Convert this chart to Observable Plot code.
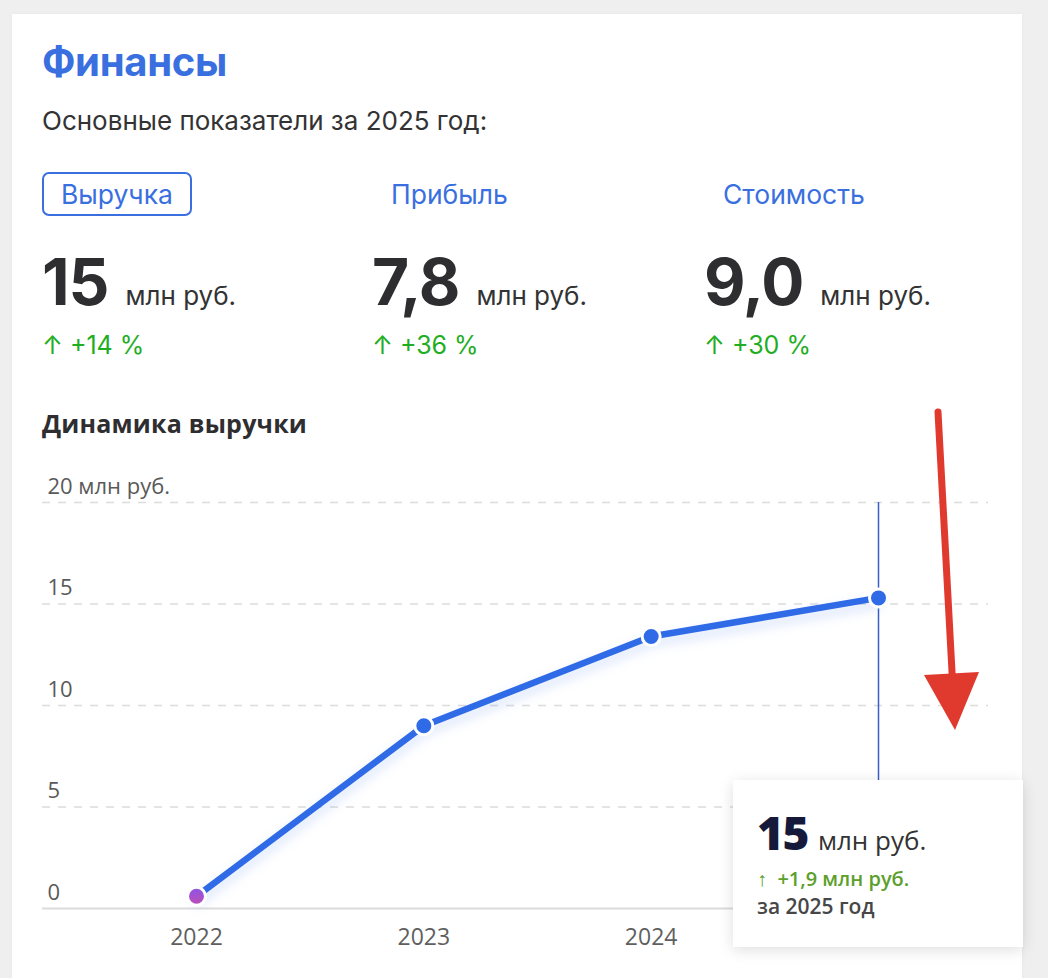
<!DOCTYPE html>
<html>
<head>
<meta charset="utf-8">
<script src="https://cdn.jsdelivr.net/npm/d3@7"></script>
<script src="https://cdn.jsdelivr.net/npm/@observablehq/plot@0.6"></script>
<style>
  html, body { margin: 0; padding: 0; }
  body { width: 1048px; height: 978px; background: #efeff0; position: relative; overflow: hidden; font-family: Inter, "Noto Sans", sans-serif; }
  #card { position: absolute; left: 12px; top: 14px; width: 1010px; height: 1000px; background: #fff; box-shadow: 0 0 4px rgba(0,0,0,0.04); }
  .abs { position: absolute; white-space: nowrap; line-height: 1; }
  #title { left: 42px; top: 42px; font-size: 40px; font-weight: 700; color: #3a6fe0; letter-spacing: -0.3px; }
  #subtitle { left: 42px; top: 108px; font-size: 26px; color: #333; }
  .tab { top: 172px; height: 40px; line-height: 40px; padding: 0 17px; font-size: 26.5px; color: #3a6fe0; border: 2px solid transparent; border-radius: 7px; }
  .tab.sel { border-color: #3a6fe0; }
  .big { top: 250px; font-size: 64px; font-weight: 700; color: #2e2e30; letter-spacing: -1px; }
  .unit { font-size: 26px; font-weight: 400; color: #333; letter-spacing: 0; margin-left: 17px; }
  .chg { top: 333px; font-size: 25px; color: #1fae1f; }
  #dyn { left: 42px; top: 411px; font-size: 25px; font-weight: 700; color: #2e2e30; font-family: "Open Sans", sans-serif; letter-spacing: 0.2px; }
  #chart { position: absolute; left: 0; top: 460px; width: 1048px; height: 500px; }
  #tip { position: absolute; left: 733px; top: 780px; width: 290px; height: 167px; background: #fff; box-shadow: 0 3px 14px rgba(0,0,0,0.13); font-family: "Open Sans", sans-serif; }
  #tip > div { position: absolute; left: 24px; line-height: 1; white-space: nowrap; }
  #tip .v { top: 29px; font-size: 46px; font-weight: 800; color: #151a3b; letter-spacing: -1.5px; }
  #tip .v span { font-size: 26px; font-weight: 400; color: #333; letter-spacing: 0; margin-left: 10px; }
  #tip .d { top: 89px; font-size: 20px; font-weight: 600; color: #5c9f2c; }
  #tip .p { top: 116px; font-size: 21px; font-weight: 600; color: #474747; }
  #arrow { position: absolute; left: 0; top: 0; }
</style>
</head>
<body>
<div id="card"></div>
<div id="header"></div>
<div id="chart"></div>
<div id="tip"></div>
<svg id="arrow" width="1048" height="978"></svg>
<script>
// ---- data ----
const years = [2022, 2023, 2024, 2025];
const revenue = [0.6, 9.0, 13.4, 15.3];
const yTicks = [0, 5, 10, 15, 20];
const yTickLabels = ["0", "5", "10", "15", "20 млн руб."];
const metricNames = ["Выручка", "Прибыль", "Стоимость"];
const metricValues = ["15", "7,8", "9,0"];
const metricChanges = ["+14 %", "+36 %", "+30 %"];
const titleText = "Финансы";
const subtitleText = "Основные показатели за 2025 год:";
const chartTitle = "Динамика выручки";
const unitText = "млн руб.";
const tipValue = "15";
const tipDelta = "+1,9 млн руб.";
const tipPeriod = "за 2025 год";

// ---- header (HTML) ----
const header = document.getElementById("header");
const colX = [42, 372, 704];
let html = `<div class="abs" id="title">${titleText}</div><div class="abs" id="subtitle">${subtitleText}</div>`;
metricNames.forEach((n, i) => {
  html += `<div class="abs tab${i === 0 ? " sel" : ""}" style="left:${colX[i]}px">${n}</div>`;
  html += `<div class="abs big" style="left:${colX[i]}px">${metricValues[i]}<span class="unit">${unitText}</span></div>`;
  html += `<div class="abs chg" style="left:${colX[i]}px">↑ ${metricChanges[i]}</div>`;
});
html += `<div class="abs" id="dyn">${chartTitle}</div>`;
header.innerHTML = html;

document.getElementById("tip").innerHTML =
  `<div class="v">${tipValue}<span>${unitText}</span></div>` +
  `<div class="d">↑&nbsp; ${tipDelta}</div>` +
  `<div class="p">${tipPeriod}</div>`;

// ---- chart ----
const data = years.map((year, i) => ({year, value: revenue[i]}));
const last = data[data.length - 1];

const chart = Plot.plot({
  width: 1048,
  height: 500,
  marginLeft: 42,
  marginRight: 60,
  marginTop: 42,
  marginBottom: 52,
  style: {background: "transparent", fontFamily: "'Open Sans', sans-serif"},
  x: {type: "linear", domain: [years[0], years[years.length - 1]], range: [196, 878]},
  y: {domain: [0, 20], axis: null},
  marks: [
    Plot.ruleY(yTicks.filter(d => d > 0), {stroke: "#dcdcdc", strokeWidth: 1.5, strokeDasharray: "8,8"}),
    Plot.ruleY([0], {stroke: "#dcdcdc", strokeWidth: 2}),
    Plot.text(yTicks, {y: d => d, text: (d, i) => yTickLabels[i], frameAnchor: "left", textAnchor: "start", dx: 5, dy: -16, fontSize: 22, fill: "#5a5a5a"}),
    Plot.axisX({ticks: years, tickFormat: d => String(d), tickSize: 0, tickPadding: 20, fontSize: 23, color: "#5f5f5f", label: null}),
    Plot.ruleX([last], {x: "year", y1: 20, y2: 0, stroke: "#3a5fc8", strokeWidth: 1.5}),
    Plot.line(data, {x: "year", y: "value", stroke: "#2f6be6", strokeWidth: 6.5, imageFilter: "drop-shadow(0 6px 6px rgba(47,107,230,0.22))"}),
    Plot.dot(data.slice(0, 1), {x: "year", y: "value", r: 9, fill: "url(#startGrad)", stroke: "white", strokeWidth: 3}),
    Plot.dot(data.slice(1), {x: "year", y: "value", r: 9, fill: "#2f6be6", stroke: "white", strokeWidth: 3})
  ]
});
const defs = d3.select(chart).insert("defs", ":first-child");
const g = defs.append("linearGradient").attr("id", "startGrad").attr("x1", 0).attr("y1", 0).attr("x2", 0).attr("y2", 1);
g.append("stop").attr("offset", "0%").attr("stop-color", "#8a55e6");
g.append("stop").attr("offset", "100%").attr("stop-color", "#c04eb4");
document.getElementById("chart").appendChild(chart);

// ---- red annotation arrow ----
const arrow = d3.select("#arrow");
arrow.append("line").attr("x1", 938).attr("y1", 412).attr("x2", 953).attr("y2", 690)
  .attr("stroke", "#e03a2e").attr("stroke-width", 7).attr("stroke-linecap", "round");
arrow.append("path").attr("d", "M924,675 L979,672 L955,730 Z").attr("fill", "#e03a2e");
</script>
</body>
</html>
